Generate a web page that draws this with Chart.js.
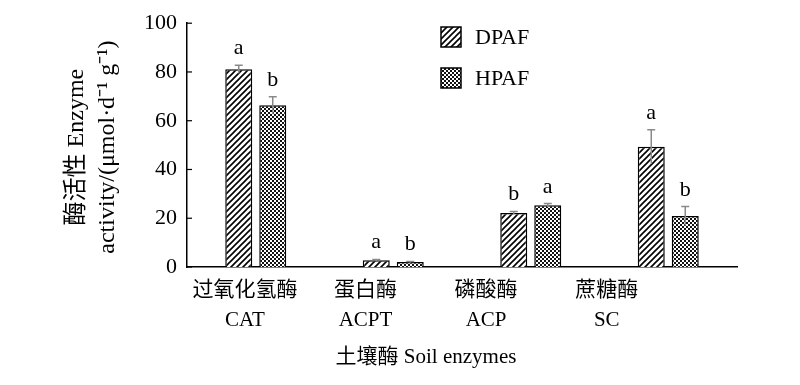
<!DOCTYPE html>
<html>
<head>
<meta charset="utf-8">
<script src="https://cdn.jsdelivr.net/npm/chart.js@4/dist/chart.umd.min.js"></script>
<style>
  html, body { margin: 0; padding: 0; background: #fff; }
</style>
</head>
<body>
<canvas id="chart" width="800" height="385"></canvas>
<script>
// Data
const categories = ['CAT', 'ACPT', 'ACP', 'SC'];
const categoriesZh = ['过氧化氢酶', '蛋白酶', '磷酸酶', '蔗糖酶'];
const seriesNames = ['DPAF', 'HPAF'];
const dpafValues = [81.1, 2.8, 22.2, 49.3];
const dpafErrors = [1.7, 0.3, 0.6, 7.0];
const dpafLetters = ['a', 'a', 'b', 'a'];
const hpafValues = [66.3, 2.0, 25.3, 20.9];
const hpafErrors = [3.5, 0.3, 0.7, 3.9];
const hpafLetters = ['b', 'b', 'a', 'b'];
const yTicks = [0, 20, 40, 60, 80, 100];

const SERIF = '"Liberation Serif", "Noto Sans CJK SC", serif';

/**
 * Build fill patterns
 */
function hatchPattern() {
  const c = document.createElement('canvas');
  c.width = 6;
  c.height = 6;
  const g = c.getContext('2d');
  g.fillStyle = '#fff';
  g.fillRect(0, 0, 6, 6);
  g.strokeStyle = '#000';
  g.lineWidth = 1.6;
  g.beginPath();
  g.moveTo(-1, 7); g.lineTo(7, -1);
  g.moveTo(-4, 4); g.lineTo(4, -4);
  g.moveTo(2, 10); g.lineTo(10, 2);
  g.stroke();
  return g.createPattern(c, 'repeat');
}

function checkerPattern() {
  const c = document.createElement('canvas');
  c.width = 4;
  c.height = 4;
  const g = c.getContext('2d');
  g.fillStyle = '#fff';
  g.fillRect(0, 0, 4, 4);
  g.fillStyle = '#111';
  g.fillRect(0, 0, 2, 2);
  g.fillRect(2, 2, 2, 2);
  return g.createPattern(c, 'repeat');
}

const patterns = [hatchPattern(), checkerPattern()];
const errors = [dpafErrors, hpafErrors];
const letters = [dpafLetters, hpafLetters];

// Error bars, significance letters, inner ticks, legend and axis titles
const extrasPlugin = {
  id: 'extras',
  afterDatasetsDraw(chart) {
    const { ctx, chartArea } = chart;
    const yScale = chart.scales.y;

    ctx.save();

    // inner y ticks
    ctx.strokeStyle = '#000';
    ctx.lineWidth = 1.2;
    yScale.ticks.forEach((t) => {
      const py = yScale.getPixelForValue(t.value);
      ctx.beginPath();
      ctx.moveTo(chartArea.left, py);
      ctx.lineTo(chartArea.left + 5, py);
      ctx.stroke();
    });

    chart.data.datasets.forEach((ds, di) => {
      const meta = chart.getDatasetMeta(di);
      meta.data.forEach((bar, i) => {
        const v = ds.data[i];
        const e = errors[di][i];
        const top = yScale.getPixelForValue(v + e);
        const low = yScale.getPixelForValue(v - e);

        ctx.strokeStyle = '#8a8a8a';
        ctx.lineWidth = 1.5;
        ctx.beginPath();
        ctx.moveTo(bar.x, low);
        ctx.lineTo(bar.x, top);
        ctx.moveTo(bar.x - 4, top);
        ctx.lineTo(bar.x + 4, top);
        ctx.stroke();

        ctx.fillStyle = '#000';
        ctx.font = `22px ${SERIF}`;
        ctx.textAlign = 'center';
        ctx.textBaseline = 'alphabetic';
        ctx.fillText(letters[di][i], bar.x, top - 11);
      });
    });

    // legend
    ctx.font = `22px ${SERIF}`;
    ctx.textAlign = 'left';
    ctx.textBaseline = 'middle';
    seriesNames.forEach((name, i) => {
      const bx = 441;
      const by = 27 + i * 41;
      ctx.fillStyle = patterns[i];
      ctx.fillRect(bx, by, 20, 20);
      ctx.strokeStyle = '#000';
      ctx.lineWidth = 1.5;
      ctx.strokeRect(bx, by, 20, 20);
      ctx.fillStyle = '#000';
      ctx.fillText(name, 475, by + 11);
    });

    // y axis title
    const cy = (chartArea.top + chartArea.bottom) / 2;
    ctx.save();
    ctx.translate(77, cy + 2);
    ctx.rotate(-Math.PI / 2);
    ctx.textAlign = 'center';
    ctx.textBaseline = 'middle';
    ctx.font = `24px ${SERIF}`;
    ctx.fillText('酶活性 Enzyme', 0, 0);
    ctx.fillText('activity/(μmol·d⁻¹ g⁻¹)', 0, 31);
    ctx.restore();

    // x axis title
    ctx.textAlign = 'center';
    ctx.textBaseline = 'middle';
    ctx.font = `21px ${SERIF}`;
    ctx.fillText('土壤酶 Soil enzymes', 426, 357);

    ctx.restore();
  },
};

new Chart(document.getElementById('chart'), {
  type: 'bar',
  data: {
    labels: categories,
    datasets: [
      {
        label: seriesNames[0],
        data: dpafValues,
        backgroundColor: patterns[0],
        borderColor: '#000',
        borderWidth: 1.5,
        categoryPercentage: 0.4945,
        barPercentage: 0.794,
      },
      {
        label: seriesNames[1],
        data: hpafValues,
        backgroundColor: patterns[1],
        borderColor: '#000',
        borderWidth: 1.5,
        categoryPercentage: 0.4945,
        barPercentage: 0.794,
      },
    ],
  },
  options: {
    responsive: false,
    animation: false,
    events: [],
    layout: { padding: { top: 18, right: 63, left: 0, bottom: 0 } },
    plugins: {
      legend: { display: false },
      tooltip: { enabled: false },
    },
    scales: {
      x: {
        display: false,
      },
      // label axis: category names sit a bit left of their bar groups
      x2: {
        type: 'linear',
        position: 'bottom',
        offset: false,
        min: -0.48,
        max: 4.08,
        afterBuildTicks: (scale) => {
          scale.ticks = categories.map((_, i) => ({ value: i }));
        },
        afterFit: (scale) => {
          scale.height = 118;
        },
        grid: { display: false, drawTicks: false },
        border: { display: true, color: '#000', width: 1.5 },
        ticks: {
          padding: 9,
          color: '#000',
          autoSkip: false,
          maxRotation: 0,
          font: { family: SERIF, size: 21, lineHeight: 1.4 },
          callback: (v) => [categoriesZh[v], categories[v]],
        },
      },
      y: {
        min: 0,
        max: 100,
        afterBuildTicks: (scale) => {
          scale.ticks = yTicks.map((v) => ({ value: v }));
        },
        afterFit: (scale) => {
          scale.width = 187;
        },
        grid: { display: false, drawTicks: false },
        border: { display: true, color: '#000', width: 1.5 },
        ticks: {
          padding: 10,
          color: '#000',
          font: { family: SERIF, size: 22 },
        },
      },
    },
  },
  plugins: [extrasPlugin],
});
</script>
</body>
</html>
